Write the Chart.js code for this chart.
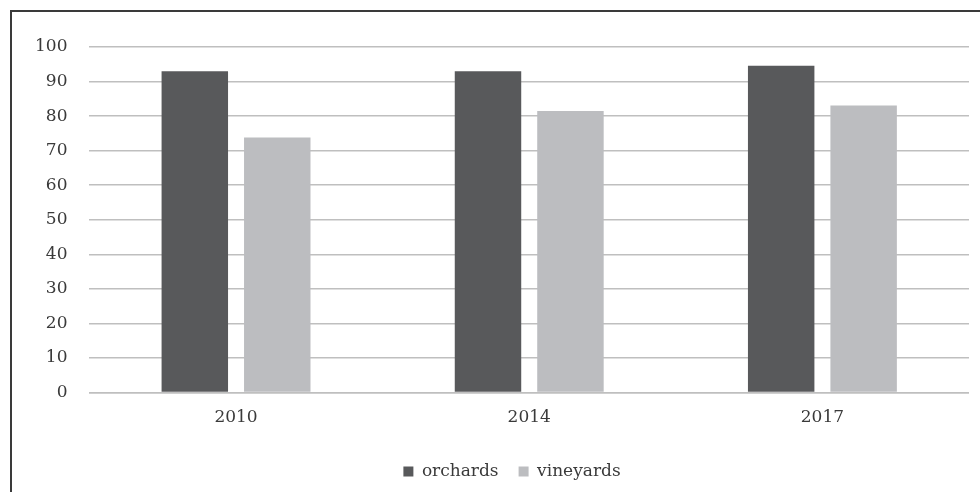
<!DOCTYPE html>
<html>
<head>
<meta charset="utf-8">
<script src="https://cdn.jsdelivr.net/npm/chart.js@4/dist/chart.umd.min.js"></script>
<style>
  body { margin: 0; background: #fff; }
  #wrap { position: relative; width: 980px; height: 492px; }
  #frame { position: absolute; left: 10px; top: 10px; right: 0; bottom: 0;
           border-top: 2px solid #3a3a3a; border-left: 2px solid #3a3a3a; }
  canvas { position: absolute; left: 0; top: 0; }
</style>
</head>
<body>
<div id="wrap">
  <div id="frame"></div>
  <canvas id="myChart" width="969" height="492"></canvas>
</div>
<script>
// data
var years = ["2010", "2014", "2017"];
var orchards = [93, 93, 94.6];
var vineyards = [73.8, 81.5, 83.1];
var yMax = 100;
var yStep = 10;

var serif = "'DejaVu Serif', serif";

// nudge the legend a bit right, it sits under the plot centre
var legendShift = {
    id: 'legendShift',
    afterLayout: function(chart) {
        if (chart.legend) {
            chart.legend.left += 21;
            chart.legend.right += 21;
        }
    }
};

var ctx = document.getElementById("myChart");
var myChart = new Chart(ctx, {
    type: 'bar',
    data: {
        labels: years,
        datasets: [{
            label: 'orchards',
            data: orchards,
            backgroundColor: '#58595b',
            borderWidth: 0
        }, {
            label: 'vineyards',
            data: vineyards,
            backgroundColor: '#bcbdc0',
            borderWidth: 0
        }]
    },
    plugins: [legendShift],
    options: {
        responsive: false,
        animation: false,
        categoryPercentage: 0.5625,
        barPercentage: 0.806,
        layout: {
            padding: { left: 13, right: 0, top: 47, bottom: 2 }
        },
        plugins: {
            legend: {
                position: 'bottom',
                labels: {
                    font: { family: serif, size: 17 },
                    color: '#3a3a3a',
                    boxWidth: 10,
                    boxHeight: 10,
                    padding: 20
                }
            },
            tooltip: { enabled: false }
        },
        scales: {
            x: {
                grid: { display: false, drawTicks: false },
                border: { color: '#bfbfbf', width: 1.5 },
                ticks: {
                    font: { family: serif, size: 17 },
                    color: '#3a3a3a',
                    padding: 15
                }
            },
            y: {
                min: 0,
                max: yMax,
                grid: { color: '#bfbfbf', lineWidth: 1.5, drawTicks: false },
                border: { display: false },
                ticks: {
                    stepSize: yStep,
                    font: { family: serif, size: 17 },
                    color: '#3a3a3a',
                    padding: 22
                }
            }
        }
    }
});
</script>
</body>
</html>
